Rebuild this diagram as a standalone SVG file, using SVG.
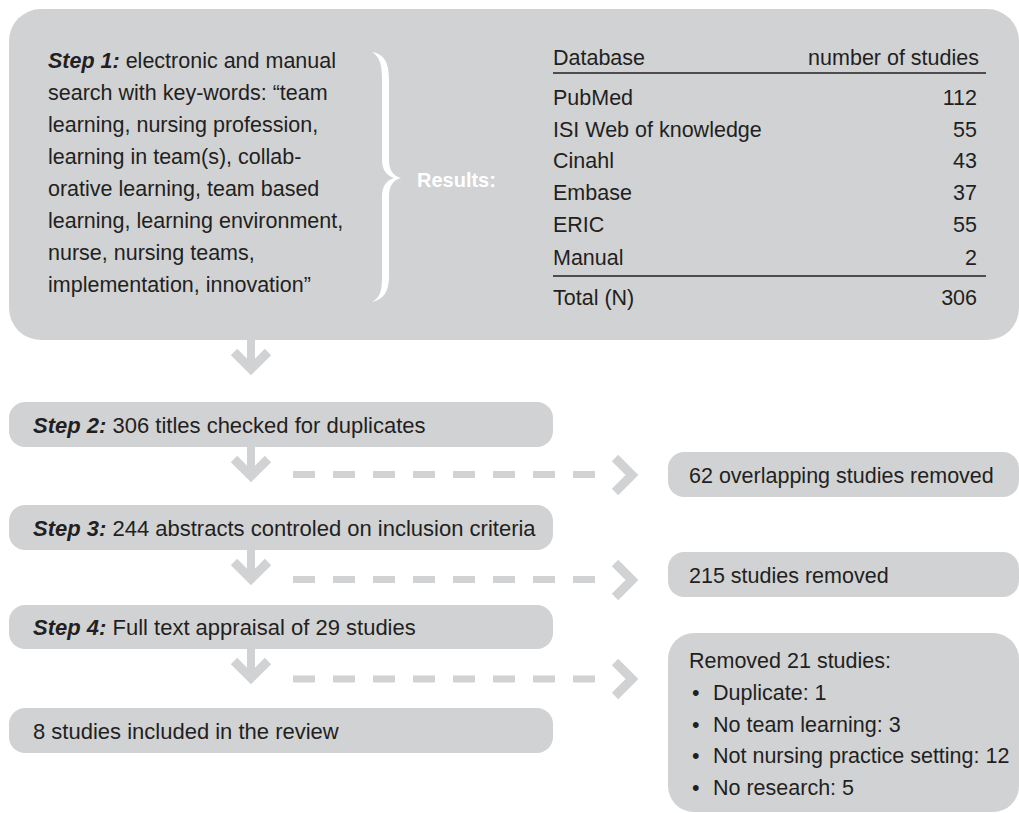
<svg xmlns="http://www.w3.org/2000/svg" width="1019" height="813" viewBox="0 0 1019 813">
<style>
.box{fill:#d1d2d4}
.t{font-family:"Liberation Sans",Arial,sans-serif;font-size:21.5px;fill:#231f20}
.s{font-family:"Liberation Sans",Arial,sans-serif;font-size:22px;fill:#231f20}
.b{font-weight:bold;font-style:italic}
.r{text-anchor:end}
.arr{fill:none;stroke:#d1d2d4;stroke-width:9;stroke-linejoin:miter;stroke-linecap:butt}
.dash{fill:none;stroke:#d1d2d4;stroke-width:7;stroke-dasharray:22 18}
</style>
<rect width="1019" height="813" fill="#ffffff"/>
<g id="step1">
<rect class="box" x="9" y="9" width="1010" height="331" rx="32" ry="32"/>
<text class="t" x="48" y="68"><tspan class="b">Step 1:</tspan> electronic and manual</text>
<text class="t" x="48" y="100">search with key-words: “team</text>
<text class="t" x="48" y="132">learning, nursing profession,</text>
<text class="t" x="48" y="164">learning in team(s), collab-</text>
<text class="t" x="48" y="196">orative learning, team based</text>
<text class="t" x="48" y="228">learning, learning environment,</text>
<text class="t" x="48" y="260">nurse, nursing teams,</text>
<text class="t" x="48" y="292">implementation, innovation”</text>
<path fill="#ffffff" d="M372,52 C384,54 389,62 389,80 L389,160 C389,170 393,176 401,178 C393,180 389,186 389,196 L389,275 C389,292 384,299 372,302 C381,297 382,290 382,275 L382,196 C382,186 387,180 394,178 C387,176 382,170 382,160 L382,80 C382,65 380,57 372,52 Z"/>
<text x="417" y="187" style="font-family:'Liberation Sans',Arial,sans-serif;font-size:20px;font-weight:bold;fill:#ffffff">Results:</text>
<text class="t" x="553" y="65">Database</text>
<text class="t r" x="979" y="65">number of studies</text>
<line x1="553" y1="73" x2="986" y2="73" stroke="#231f20" stroke-width="1.5"/>
<text class="t" x="553" y="105">PubMed</text><text class="t r" x="977" y="105">112</text>
<text class="t" x="553" y="137">ISI Web of knowledge</text><text class="t r" x="977" y="137">55</text>
<text class="t" x="553" y="168">Cinahl</text><text class="t r" x="977" y="168">43</text>
<text class="t" x="553" y="200">Embase</text><text class="t r" x="977" y="200">37</text>
<text class="t" x="553" y="232">ERIC</text><text class="t r" x="977" y="232">55</text>
<text class="t" x="553" y="265">Manual</text><text class="t r" x="977" y="265">2</text>
<line x1="553" y1="276" x2="986" y2="276" stroke="#231f20" stroke-width="1.5"/>
<text class="t" x="553" y="305">Total (N)</text><text class="t r" x="977" y="305">306</text>
</g>
<g id="step2">
<rect class="box" x="9" y="402" width="544" height="45" rx="16" ry="16"/>
<text class="s" x="33" y="433"><tspan class="b">Step 2:</tspan> 306 titles checked for duplicates</text>
</g>
<g id="step3">
<rect class="box" x="9" y="505" width="544" height="45" rx="16" ry="16"/>
<text class="s" x="33" y="536"><tspan class="b">Step 3:</tspan> 244 abstracts controled on inclusion criteria</text>
</g>
<g id="step4">
<rect class="box" x="9" y="605" width="544" height="44" rx="16" ry="16"/>
<text class="s" x="33" y="635"><tspan class="b">Step 4:</tspan> Full text appraisal of 29 studies</text>
</g>
<g id="included">
<rect class="box" x="9" y="708" width="544" height="45" rx="16" ry="16"/>
<text class="s" x="33" y="739">8 studies included in the review</text>
</g>
<g id="removed1">
<rect class="box" x="668" y="452" width="351" height="45" rx="16" ry="16"/>
<text class="t" x="689" y="483">62 overlapping studies removed</text>
</g>
<g id="removed2">
<rect class="box" x="668" y="552" width="351" height="45" rx="16" ry="16"/>
<text class="t" x="689" y="583">215 studies removed</text>
</g>
<g id="removed3">
<rect class="box" x="668" y="633" width="351" height="179" rx="26" ry="26"/>
<text class="t" x="689" y="668">Removed 21 studies:</text>
<text class="t" x="692" y="700">•</text><text class="t" x="713" y="700">Duplicate: 1</text>
<text class="t" x="692" y="732">•</text><text class="t" x="713" y="732">No team learning: 3</text>
<text class="t" x="692" y="763">•</text><text class="t" x="713" y="763">Not nursing practice setting: 12</text>
<text class="t" x="692" y="795">•</text><text class="t" x="713" y="795">No research: 5</text>
</g>
<g id="connectors">
<line x1="251" y1="340" x2="251" y2="370" stroke="#d1d2d4" stroke-width="8"/>
<polyline class="arr" points="234,352 251,369 268,352"/>
<line x1="251" y1="447" x2="251" y2="477" stroke="#d1d2d4" stroke-width="8"/>
<polyline class="arr" points="234,459 251,476 268,459"/>
<line class="dash" x1="293" y1="474.5" x2="595" y2="474.5"/>
<polyline class="arr" points="615,458 632,475 615,492"/>
<line x1="251" y1="550" x2="251" y2="580" stroke="#d1d2d4" stroke-width="8"/>
<polyline class="arr" points="234,562 251,579 268,562"/>
<line class="dash" x1="293" y1="579.5" x2="595" y2="579.5"/>
<polyline class="arr" points="615,563 632,580 615,597"/>
<line x1="251" y1="649" x2="251" y2="679" stroke="#d1d2d4" stroke-width="8"/>
<polyline class="arr" points="234,661 251,678 268,661"/>
<line class="dash" x1="293" y1="679" x2="595" y2="679"/>
<polyline class="arr" points="615,662 632,679 615,696"/>
</g>
</svg>
